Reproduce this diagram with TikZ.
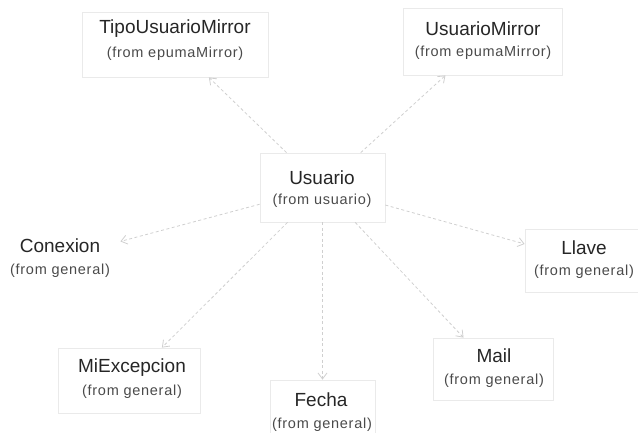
\documentclass[tikz,border=0pt]{standalone}
\usepackage{fontspec}
\setmainfont{Liberation Sans}
\newfontfamily\subfont[LetterSpace=5]{Liberation Sans}
\usetikzlibrary{arrows.meta}
\definecolor{boxline}{HTML}{EAEAEA}
\definecolor{depline}{HTML}{CFCFCF}
\definecolor{maintxt}{HTML}{262626}
\definecolor{subtxt}{HTML}{4A4A4A}
\tikzset{
  pkgbox/.style={draw=boxline, line width=0.8pt, rectangle, inner sep=0pt},
  mainlbl/.style={text=maintxt, font=\fontsize{19}{22}\selectfont, inner sep=0pt, anchor=center},
  sublbl/.style={text=subtxt, font=\subfont\fontsize{14.5}{17}\selectfont, inner sep=0pt, anchor=center},
  dep/.style={draw=depline, line width=0.8pt, dash pattern=on 3pt off 2.5pt,
    -{Straight Barb[length=6pt,width=9pt]}}
}
\begin{document}
\begin{tikzpicture}[x=1pt,y=-1pt]
\useasboundingbox (0,0) rectangle (638,432);
% package boxes
\node[pkgbox, minimum width=186pt, minimum height=65pt] (t) at (175,44.5) {};
\node[pkgbox, minimum width=159pt, minimum height=67pt] (um) at (482.5,41.5) {};
\node[pkgbox, minimum width=125pt, minimum height=69pt] (u) at (322.5,187.5) {};
\node[pkgbox, draw=none, minimum width=120pt, minimum height=65pt] (c) at (60,257.5) {};
\node[pkgbox, minimum width=118pt, minimum height=63pt] (l) at (584,260.5) {};
\node[pkgbox, minimum width=142pt, minimum height=65pt] (m) at (129,380.5) {};
\node[pkgbox, minimum width=105pt, minimum height=65pt] (f) at (322.5,412.5) {};
\node[pkgbox, minimum width=120pt, minimum height=62pt] (ma) at (493,369) {};
% labels
\node[mainlbl] (tt) at (175,29) {TipoUsuarioMirror};
\node[sublbl] (ts) at (175,54) {(from epumaMirror)};
\node[mainlbl] (umt) at (483,29) {UsuarioMirror};
\node[sublbl] (ums) at (483,53) {(from epumaMirror)};
\node[mainlbl] (ut) at (322,178) {Usuario};
\node[sublbl] (us) at (322,201) {(from usuario)};
\node[mainlbl] (ct) at (60,246) {Conexion};
\node[sublbl] (cs) at (60,271) {(from general)};
\node[mainlbl] (lt) at (584,248) {Llave};
\node[sublbl] (ls) at (584,272) {(from general)};
\node[mainlbl] (mt) at (132,368) {MiExcepcion};
\node[sublbl] (ms) at (132,392) {(from general)};
\node[mainlbl] (ft) at (321,400) {Fecha};
\node[sublbl] (fs) at (322,425) {(from general)};
\node[mainlbl] (mat) at (494,356) {Mail};
\node[sublbl] (mas) at (494,381) {(from general)};
% dependencies
\draw[dep] (u) -- (t);
\draw[dep] (u) -- (um);
\draw[dep] (u) -- (c);
\draw[dep] (u) -- (l);
\draw[dep] (u) -- (m);
\draw[dep] (u) -- (f);
\draw[dep] (u) -- (ma);
\end{tikzpicture}
\end{document}
